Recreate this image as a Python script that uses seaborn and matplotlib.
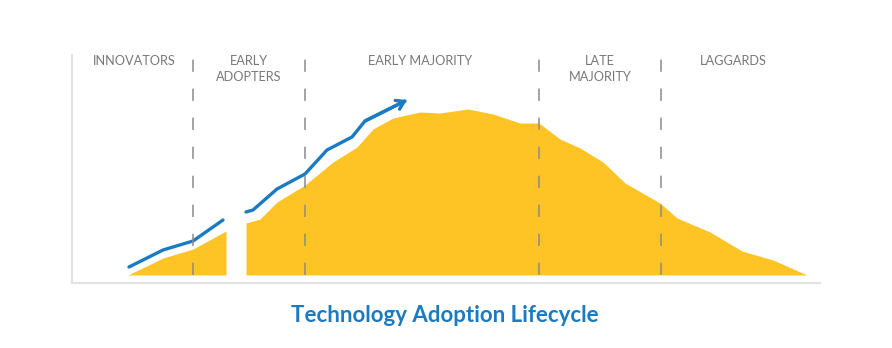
import matplotlib
matplotlib.use("Agg")
import matplotlib.pyplot as plt
import seaborn as sns
import pandas as pd

# ---- data ----
fill_left_x = [128, 163, 193, 226]
fill_left_y = [0, 17, 26, 44]
fill_right_x = [246, 260, 277, 305, 333, 357, 373, 393, 420, 440, 468, 493, 520,
                539, 560, 580, 603, 625, 660, 677, 710, 742, 773, 807]
fill_right_y = [52, 56, 73, 90, 113, 128, 146, 157, 163, 162, 166, 161, 152,
                152, 136, 127, 113, 92, 72, 57, 43, 24, 15, 0]
trend_left_x = [129, 163, 193, 223]
trend_left_y = [8, 25, 34, 55]
trend_right_x = [246, 253, 277, 305, 327, 352, 365, 405]
trend_right_y = [63, 65, 86, 101, 125, 138, 154, 174]
boundaries = [193, 305, 539, 661]
segment_names = ["INNOVATORS", "EARLY\nADOPTERS", "EARLY MAJORITY", "LATE\nMAJORITY", "LAGGARDS"]
segment_centers = [134, 249, 420, 600, 733]
title = "Technology Adoption Lifecycle"

YELLOW = "#FEC426"
BLUE = "#1A7BC2"

sns.set_style("white")
plt.rcParams['font.family'] = ['Lato', 'DejaVu Sans']

W, H = 892, 348
fig = plt.figure(figsize=(W / 100, H / 100), dpi=100)
ax_l, ax_r, ax_t, ax_b = 72, 820, 55, 283
ax = fig.add_axes([ax_l / W, 1 - ax_b / H, (ax_r - ax_l) / W, (ax_b - ax_t) / H])
ax.set_xlim(ax_l, ax_r)
ax.set_ylim(-8, 220)

ax.fill_between(fill_left_x, fill_left_y, 0, color=YELLOW, lw=0)
ax.fill_between(fill_right_x, fill_right_y, 0, color=YELLOW, lw=0)

tl = pd.DataFrame({"x": trend_left_x, "y": trend_left_y})
tr = pd.DataFrame({"x": trend_right_x, "y": trend_right_y})
sns.lineplot(data=tl, x="x", y="y", ax=ax, color=BLUE, lw=2.4, sort=False)
sns.lineplot(data=tr, x="x", y="y", ax=ax, color=BLUE, lw=2.4, sort=False)
ax.annotate("", xy=(trend_right_x[-1] + 2, trend_right_y[-1] + 1),
            xytext=(trend_right_x[-2], trend_right_y[-2]),
            arrowprops=dict(arrowstyle="->,head_length=0.55,head_width=0.35",
                            color=BLUE, lw=2.4, shrinkA=0, shrinkB=0))

for b in boundaries:
    ax.plot([b, b], [0, 220], color="#8a8a8a", lw=1.1, dashes=(8, 11), zorder=3)

for name, cx in zip(segment_names, segment_centers):
    lines = name.split("\n")
    for i, ln in enumerate(lines):
        ax.text(cx, 214 - 16 * i, ln, ha="center", va="center", fontsize=9.2,
                color="#787878", fontweight="normal")

for s in ["top", "right"]:
    ax.spines[s].set_visible(False)
for s in ["left", "bottom"]:
    ax.spines[s].set_color("#e2e2e2")
    ax.spines[s].set_linewidth(1.5)
ax.set_xticks([])
ax.set_yticks([])
ax.set_xlabel("")
ax.set_ylabel("")

fig.text(445 / W, 1 - 315 / H, title, ha="center", va="center", fontsize=16,
         fontweight="bold", color=BLUE)

fig.savefig("out.png", dpi=100, facecolor="white")
